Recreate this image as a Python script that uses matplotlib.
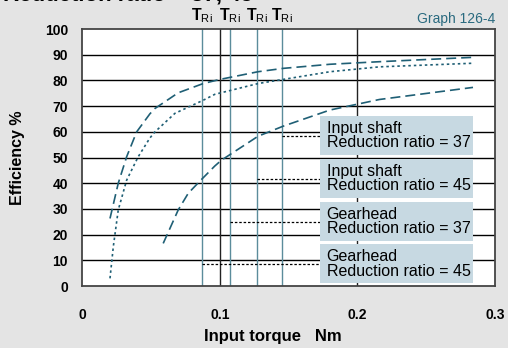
import numpy as np
import matplotlib
matplotlib.use('Agg')
import matplotlib.pyplot as plt
from matplotlib.patches import Rectangle

plt.rcParams['font.family'] = ['Liberation Sans', 'DejaVu Sans']
plt.rcParams['mathtext.fontset'] = 'custom'
plt.rcParams['mathtext.rm'] = 'Liberation Sans'
plt.rcParams['mathtext.bf'] = 'Liberation Sans:bold'

# efficiency curves (input torque Nm, efficiency %)
shaft37_x = [0.020, 0.026, 0.0321, 0.0394, 0.049, 0.0527, 0.0696, 0.0878,
             0.0999, 0.1277, 0.1459, 0.180, 0.216, 0.284]
shaft37_y = [26.3, 40.0, 50.3, 60.0, 67.0, 69.1, 75.2, 78.8,
             80.4, 83.4, 84.7, 86.3, 87.3, 89.0]
shaft45_x = [0.020, 0.0224, 0.026, 0.0321, 0.0405, 0.049, 0.0527, 0.0672,
             0.0878, 0.0962, 0.1277, 0.180, 0.216, 0.284]
shaft45_y = [3.0, 15.3, 29.6, 41.2, 50.3, 57.6, 60.0, 67.2,
             72.3, 74.6, 78.8, 83.4, 85.3, 86.7]
gear37_x = [0.0587, 0.0696, 0.0769, 0.0853, 0.0962, 0.1011, 0.1277, 0.1459,
            0.180, 0.216, 0.284]
gear37_y = [16.6, 29.6, 36.1, 40.8, 46.7, 49.0, 58.3, 62.2,
            68.5, 72.6, 77.3]

# rated torque markers and legend entries
tri_x = [0.145, 0.127, 0.107, 0.087]
legend_labels = ['Input shaft\nReduction ratio = 37',
                 'Input shaft\nReduction ratio = 45',
                 'Gearhead\nReduction ratio = 37',
                 'Gearhead\nReduction ratio = 45']
legend_y = [58.4, 41.7, 24.9, 8.4]

curve_c = '#1f5f75'
line_c = '#5b8c9b'
box_c = '#c7d9e2'

fig = plt.figure(figsize=(5.08, 3.48), dpi=100)
fig.patch.set_facecolor('#e4e4e4')
ax = fig.add_axes([0.1624, 0.178, 0.812, 0.7385])
ax.set_xlim(0, 0.3)
ax.set_ylim(0, 100)

for y in range(10, 100, 10):
    ax.axhline(y, color='black', lw=1.0, zorder=1)
for x in (0.1, 0.2):
    ax.axvline(x, color='#222222', lw=1.0, zorder=1)
for x in tri_x:
    ax.axvline(x, color=line_c, lw=1.0, zorder=2)

ax.plot(shaft37_x, shaft37_y, color=curve_c, lw=1.2, dashes=(6, 3), zorder=3)
ax.plot(shaft45_x, shaft45_y, color=curve_c, lw=1.2, dashes=(1.5, 1.8), zorder=3)
ax.plot(gear37_x, gear37_y, color=curve_c, lw=1.2, dashes=(6, 3), zorder=3)

box_x0, box_x1 = 0.173, 0.2837
box_h = 15.2
for x, y, lab in zip(tri_x, legend_y, legend_labels):
    ax.plot([x, box_x0], [y, y], color='black', lw=0.9, dashes=(2, 1.5), zorder=3)
    ax.add_patch(Rectangle((box_x0, y - 7.4), box_x1 - box_x0, box_h,
                           facecolor=box_c, edgecolor='none', zorder=4))
    ax.text(box_x0 + 0.0045, y + 0.2, lab, fontsize=11.5, va='center', ha='left',
            linespacing=0.95, zorder=5)

ax.set_xticks([0, 0.1, 0.2, 0.3])
ax.set_xticklabels(['0', '0.1', '0.2', '0.3'], fontweight='bold')
ax.set_yticks(range(0, 101, 10))
ax.set_yticklabels([str(v) for v in range(0, 101, 10)], fontweight='bold')
ax.tick_params(axis='both', length=0, labelsize=10)
ax.tick_params(axis='x', pad=16)
ax.tick_params(axis='y', pad=10.5)
for s in ax.spines.values():
    s.set_color('#444444')
    s.set_linewidth(1.3)

ax.set_xlabel('Input torque   Nm', fontsize=12, fontweight='bold')
ax.xaxis.set_label_coords(0.461, -0.168)
ax.set_ylabel('Efficiency %', fontsize=11.5, fontweight='bold')
ax.yaxis.set_label_coords(-0.139, 0.5)

for x in tri_x:
    ax.text(x, 101.5, r'$\mathbf{T}_{\mathrm{Ri}}$', fontsize=11.5, ha='center',
            va='bottom')

ax.text(0.3, 103.9, 'Graph 126-4', fontsize=10, color='#2a6a7f',
        ha='right', va='center')
# title sits mostly above the top edge, only its lower part shows
fig.text(3 / 508, 1 - 0.5 / 348, 'Reduction ratio = 37, 45', fontsize=16,
         fontweight='bold', ha='left', va='baseline')

fig.savefig('out.png', dpi=100, facecolor=fig.get_facecolor())
